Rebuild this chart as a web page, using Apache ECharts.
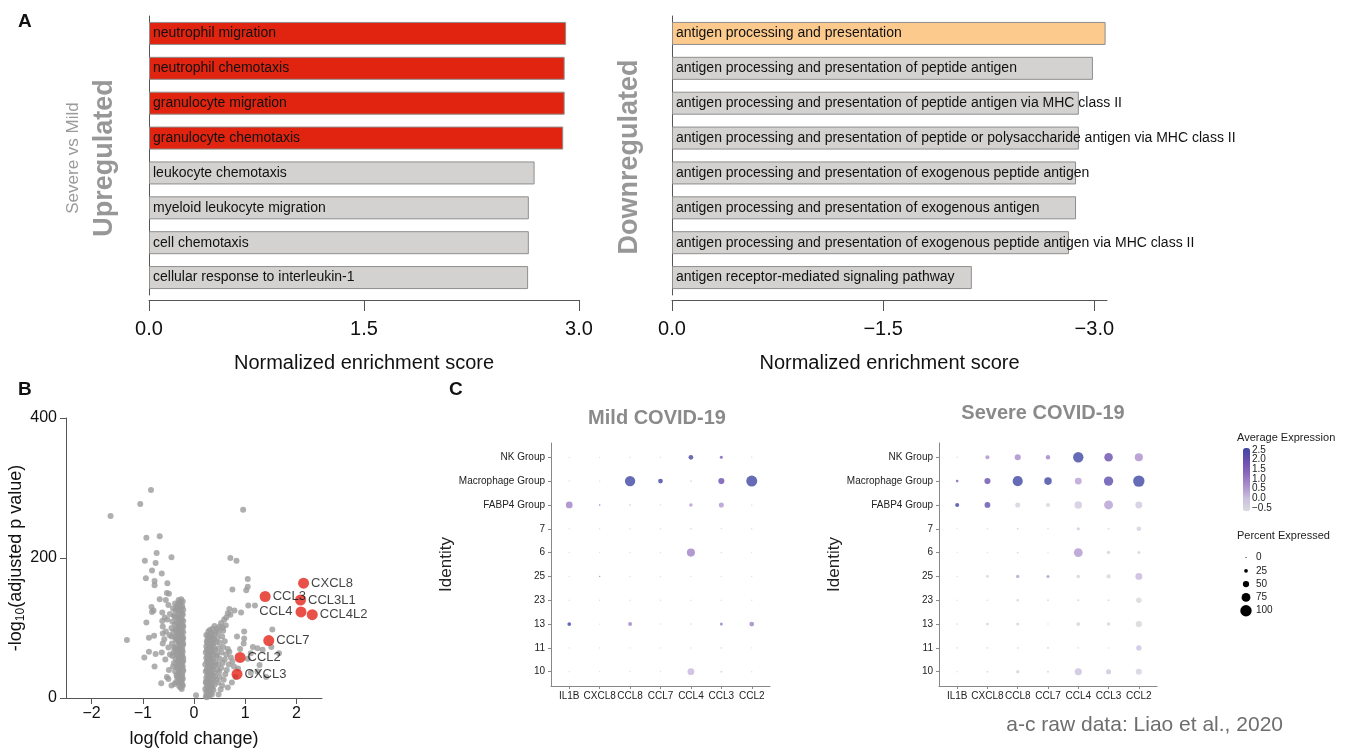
<!DOCTYPE html>
<html><head><meta charset="utf-8">
<script src="https://cdn.jsdelivr.net/npm/echarts@6/dist/echarts.min.js"></script>
<style>html,body{margin:0;padding:0;background:#fff}#c{width:1352px;height:753px}</style>
</head><body><div id="c"></div>
<script>
const FONT = '"Liberation Sans", Arial, Helvetica, sans-serif';

// ---------- Panel A ----------
const upTerms = ['neutrophil migration','neutrophil chemotaxis','granulocyte migration','granulocyte chemotaxis','leukocyte chemotaxis','myeloid leukocyte migration','cell chemotaxis','cellular response to interleukin-1'];
const upNES = [2.91, 2.90, 2.90, 2.89, 2.69, 2.65, 2.65, 2.645];
const upHighlighted = 4;
const downTerms = ['antigen processing and presentation','antigen processing and presentation of peptide antigen','antigen processing and presentation of peptide antigen via MHC class II','antigen processing and presentation of peptide or polysaccharide antigen via MHC class II','antigen processing and presentation of exogenous peptide antigen','antigen processing and presentation of exogenous antigen','antigen processing and presentation of exogenous peptide antigen via MHC class II','antigen receptor-mediated signaling pathway'];
const downNES = [-3.08, -2.99, -2.89, -2.89, -2.87, -2.87, -2.82, -2.13];
const upTicks = [0, 1.5, 3.0];
const downTicks = [0, -1.5, -3.0];

// ---------- Panel B (volcano) ----------
const volcanoGray = [
[-0.22,138],[-0.26,136],[-0.3,134],[-0.23,131],[-0.33,130],[-0.27,128],[-0.21,126],[-0.36,125],[-0.25,123],[-0.3,121],[-0.22,119],[-0.39,118],[-0.27,117],[-0.34,115],[-0.24,113],[-0.29,112],[-0.21,110],[-0.42,109],[-0.26,108],[-0.31,106],[-0.37,105],[-0.23,104],[-0.28,102],[-0.22,100],[-0.35,99],[-0.26,98],[-0.3,96],[-0.4,95],[-0.21,94],[-0.25,92],[-0.33,91],[-0.28,90],[-0.23,88],[-0.38,87],[-0.27,86],[-0.31,84],[-0.22,83],[-0.35,82],[-0.26,80],[-0.29,79],[-0.43,78],[-0.21,77],[-0.25,75],[-0.34,74],[-0.28,73],[-0.23,71],[-0.37,70],[-0.27,69],[-0.3,67],[-0.22,66],[-0.4,65],[-0.26,63],[-0.33,62],[-0.24,60],[-0.28,59],[-0.21,57],[-0.36,56],[-0.27,54],[-0.31,53],[-0.23,51],[-0.39,50],[-0.26,48],[-0.29,47],[-0.22,45],[-0.34,44],[-0.25,42],[-0.28,41],[-0.21,39],[-0.37,38],[-0.27,36],[-0.3,35],[-0.23,33],[-0.26,31],[-0.33,30],[-0.22,28],[-0.28,27],[-0.25,25],[-0.35,23],[-0.27,21],[-0.23,19],[-0.29,17],[-0.26,15],
[-0.28,137],[-0.32,133],[-0.24,129],[-0.35,127],[-0.29,124],[-0.23,120],[-0.38,116],[-0.28,114],[-0.24,111],[-0.34,108],[-0.27,105],[-0.21,103],[-0.29,100],[-0.36,97],[-0.24,95],[-0.32,93],[-0.27,89],[-0.21,86],[-0.34,85],[-0.24,82],[-0.3,81],[-0.27,78],[-0.22,76],[-0.39,72],[-0.32,70],[-0.24,68],[-0.28,65],[-0.35,64],[-0.23,61],[-0.3,58],[-0.25,56],[-0.21,53],[-0.33,51],[-0.28,49],[-0.24,46],[-0.32,44],[-0.27,43],[-0.22,40],[-0.29,37],[-0.24,34],[-0.34,32],[-0.28,29],[-0.23,26],[-0.31,24],[-0.25,22],[-0.22,18],[-0.3,140],[-0.25,141],[-0.37,135],[-0.41,128],[-0.44,100],[-0.42,60],[-0.41,45],[-0.44,88],[-0.38,20],[-0.24,13],
[-0.84,297],[-1.05,277],[-1.63,260],[-0.93,229],[-0.67,231],[-0.73,207],[-0.44,201],[-0.96,196],[-0.75,193],[-0.82,182],[-0.63,178],[-0.94,171],[-0.77,167],[-0.52,164],[-0.77,161],[-0.53,150],[-0.49,149],[-0.67,141],[-0.55,140],[-0.83,130],[-0.79,125],[-0.82,123],[-0.62,122],[-0.57,115],[-0.62,110],[-0.93,108],[-0.61,102],[-0.61,92],[-1.31,83],[-0.88,86],[-0.78,89],[-0.61,78],[-0.88,66],[-0.63,65],[-0.75,63],[-0.97,58],[-0.77,45],[-0.64,21],[-0.44,18],[-0.5,133],[-0.47,120],[-0.52,112],[-0.48,90],[-0.55,95],[-0.5,72],[-0.56,55],[-0.49,40],[-0.53,30],[-0.47,62],[-0.58,84],[-0.5,27],
[0.23,2],[0.26,5],[0.3,3],[0.24,8],[0.28,10],[0.33,7],[0.22,13],[0.27,15],[0.31,12],[0.36,14],[0.25,18],[0.29,20],[0.34,17],[0.23,22],[0.4,19],[0.27,25],[0.32,24],[0.37,27],[0.24,29],[0.3,30],[0.43,26],[0.26,33],[0.35,32],[0.28,36],[0.23,38],[0.33,37],[0.39,35],[0.25,41],[0.3,42],[0.46,40],[0.36,44],[0.27,46],[0.22,48],[0.32,49],[0.41,47],[0.25,52],[0.29,54],[0.35,53],[0.24,57],[0.31,58],[0.38,56],[0.27,61],[0.44,60],[0.33,63],[0.23,65],[0.29,66],[0.36,67],[0.26,70],[0.31,71],[0.41,69],[0.24,74],[0.34,75],[0.28,77],[0.38,78],[0.25,81],[0.32,82],[0.43,80],[0.27,85],[0.36,86],[0.3,88],[0.24,90],[0.4,91],[0.33,93],[0.28,95],
[0.25,1],[0.28,4],[0.35,5],[0.26,11],[0.3,16],[0.38,11],[0.24,24],[0.35,21],[0.29,28],[0.41,31],[0.31,34],[0.26,39],[0.37,41],[0.3,47],[0.34,45],[0.27,51],[0.42,51],[0.32,55],[0.26,59],[0.37,62],[0.3,64],[0.25,68],[0.33,69],[0.39,72],[0.29,73],[0.35,79],[0.26,79],[0.31,84],[0.39,84],[0.27,89],[0.35,90],[0.31,97],
[0.48,5],[0.52,12],[0.47,22],[0.55,18],[0.5,30],[0.58,26],[0.49,37],[0.61,34],[0.53,43],[0.47,48],[0.64,40],[0.56,50],[0.5,56],[0.6,55],[0.68,48],[0.45,63],[0.54,65],[0.63,62],[0.72,58],[0.48,71],[0.57,73],[0.66,70],[0.75,52],[0.5,79],[0.6,81],[0.46,86],[0.55,88],[0.69,66],[0.78,45],[0.81,30],[0.74,22],[0.66,15],[0.45,99],[0.5,102],[0.43,95],[0.53,107],[0.59,112],[0.63,115],[0.66,121],[0.71,119],[0.69,127],[0.62,104],[0.57,96],[0.4,103],[0.48,94],[0.56,100],[0.36,99],
[0.98,95],[0.98,85],[0.97,78],[1.15,73],[1.24,71],[1.34,69],[1.11,64],[1.05,56],[1.28,47],[1.41,30],[1.24,38],[1.11,36],[0.92,122],[0.79,125],[1.06,132],[1.19,132],[0.75,155],[1.02,154],[1.05,159],[1.05,170],[0.71,200],[0.83,196],[0.96,269],[0.04,4],[1.53,98],[1.66,64],[1.51,73],[0.86,42],[0.9,70],[0.84,88]
];
const redGenes = ['CXCL8','CCL3','CCL3L1','CCL4','CCL4L2','CCL7','CCL2','CXCL3'];
const redLogFC = [2.14, 1.39, 2.08, 2.09, 2.31, 1.46, 0.90, 0.84];
const redLogP = [164, 145, 140, 123, 119, 82, 58, 34];
const volXTicks = [-2, -1, 0, 1, 2];
const volYTicks = [0, 200, 400];

// ---------- Panel C (dot plots) ----------
const genes = ['IL1B','CXCL8','CCL8','CCL7','CCL4','CCL3','CCL2'];
const identities = ['NK Group','Macrophage Group','FABP4 Group','7','6','25','23','13','11','10']; // top to bottom
const mildPct = [
 [1,1,2,1,35,18,2],
 [3,2,90,35,6,48,96],
 [55,3,6,2,22,38,2],
 [1,1,1,1,5,2,2],
 [1,1,1,1,68,3,1],
 [1,2,1,1,1,1,1],
 [1,1,1,1,2,1,1],
 [25,1,28,2,4,18,35],
 [1,1,1,1,2,4,1],
 [1,1,1,1,55,6,2]
];
const mildExpr = [
 [-0.3,-0.3,-0.3,-0.3,2.4,1.7,-0.3],
 [-0.3,-0.3,2.5,2.5,-0.2,1.9,2.5],
 [0.9,1.5,-0.2,-0.3,0.6,0.6,-0.3],
 [-0.3,-0.3,-0.3,-0.3,-0.2,-0.3,-0.3],
 [-0.3,-0.3,-0.3,-0.3,0.9,-0.3,-0.3],
 [-0.3,1.0,-0.3,-0.3,-0.3,-0.3,-0.3],
 [-0.3,-0.3,-0.3,-0.3,-0.3,-0.3,-0.3],
 [2.5,-0.3,0.9,-0.3,-0.3,1.0,0.9],
 [-0.3,-0.3,-0.3,-0.3,-0.3,-0.2,-0.3],
 [-0.3,-0.3,-0.3,-0.3,0.2,-0.1,-0.3]
];
const severePct = [
 [3,28,48,32,90,72,68],
 [15,48,88,62,56,80,100],
 [28,45,38,28,62,76,56],
 [1,5,8,4,20,8,34],
 [1,2,7,2,75,22,18],
 [3,14,22,18,22,30,56],
 [1,4,12,8,10,9,42],
 [5,16,18,3,26,22,50],
 [4,5,6,8,4,3,40],
 [2,8,22,9,58,38,48]
];
const severeExpr = [
 [-0.3,0.7,0.8,0.9,2.5,1.9,0.7],
 [1.5,1.9,2.5,2.5,0.5,2.1,2.5],
 [2.5,2.0,-0.3,-0.3,-0.1,0.5,-0.1],
 [-0.4,-0.4,-0.3,-0.4,-0.1,-0.4,-0.3],
 [-0.4,-0.4,-0.3,-0.4,0.6,-0.3,-0.3],
 [-0.4,-0.2,0.5,0.6,-0.2,-0.4,0.2],
 [-0.4,-0.4,-0.3,-0.4,-0.4,-0.4,-0.4],
 [-0.4,-0.3,-0.3,-0.4,-0.3,-0.3,-0.4],
 [-0.4,-0.4,-0.4,-0.4,-0.4,-0.4,0.1],
 [-0.4,-0.4,-0.3,-0.4,0.1,0.0,-0.3]
];
const exprTicks = [2.5, 2.0, 1.5, 1.0, 0.5, 0.0, -0.5];
const pctTicks = [0, 25, 50, 75, 100];

// ---------- build ----------
const RED = '#e1240f', GRAY = '#d4d2d1', ORANGE = '#fbca8c', EDGE = '#8e8e8e';
const AX = '#555';
const dotColors = ['#dadada','#cbbfe0','#ab8fcc','#8a68bb','#6a4faf','#3f47a2'];
const dotSize = p => 1.2 + p * 0.102;
const nrow = identities.length;
function dotData(pct, expr) {
  const out = [];
  for (let r = 0; r < nrow; r++) for (let g = 0; g < genes.length; g++)
    out.push([g, nrow - 1 - r, expr[r][g], pct[r][g]]);
  return out;
}
const minusFmt = v => v < 0 ? '\u2212' + Math.abs(v) : String(v);

const chart = echarts.init(document.getElementById('c'), null, {renderer: 'canvas'});

const barLabel = {show: true, position: 'insideLeft', distance: 4, color: '#111', fontSize: 14, fontFamily: FONT};

function dotAxes(gi) {
  return {
    x: {gridIndex: gi, type: 'value', min: -0.6, max: 6.6, splitLine: {show: false},
      axisLine: {show: true, onZero: false, lineStyle: {color: '#888'}},
      axisTick: {show: true, length: 3, lineStyle: {color: '#888'}, customValues: genes.map((g, i) => i)},
      axisLabel: {customValues: genes.map((g, i) => i), formatter: v => genes[v], fontSize: 10, color: '#222', margin: 5, fontFamily: FONT}},
    y: {gridIndex: gi, type: 'value', min: -0.6, max: nrow - 0.4, splitLine: {show: false},
      name: 'Identity', nameLocation: 'middle', nameRotate: 90, nameGap: gi === 3 ? 90 : 87,
      nameTextStyle: {fontSize: 17, color: '#222', fontFamily: FONT},
      axisLine: {show: true, onZero: false, lineStyle: {color: '#888'}},
      axisTick: {show: true, length: 3, lineStyle: {color: '#888'}, customValues: identities.map((g, i) => i)},
      axisLabel: {customValues: identities.map((g, i) => i), formatter: v => identities[nrow - 1 - v], fontSize: 10, color: '#222', margin: 6, fontFamily: FONT}}
  };
}
const mildAx = dotAxes(3), sevAx = dotAxes(4);

const graphics = [];
const T = (x, y, text, font, fill, align, vAlign, rot) => graphics.push({type: 'text', x, y, rotation: rot || 0, silent: true,
  style: {text, font, fill, align: align || 'left', verticalAlign: vAlign || 'middle'}});
T(18, 22, 'A', 'bold 19px ' + FONT, '#111');
T(18, 390, 'B', 'bold 19px ' + FONT, '#111');
T(449, 390, 'C', 'bold 19px ' + FONT, '#111');
T(73, 158, 'Severe vs Mild', '17px ' + FONT, '#9a9a9a', 'center', 'middle', Math.PI / 2);
T(105, 158, 'Upregulated', 'bold 27px ' + FONT, '#979797', 'center', 'middle', Math.PI / 2);
T(630, 157, 'Downregulated', 'bold 27px ' + FONT, '#979797', 'center', 'middle', Math.PI / 2);
T(657, 418, 'Mild COVID-19', 'bold 20px ' + FONT, '#8a8a8a', 'center');
T(1043, 413, 'Severe COVID-19', 'bold 20px ' + FONT, '#8a8a8a', 'center');
T(1237, 438, 'Average Expression', '11px ' + FONT, '#222');
exprTicks.forEach((v, i) => T(1252, 450 + (2.5 - v) / 3 * 58, v < 0 ? '\u2212' + Math.abs(v).toFixed(1) : v.toFixed(1), '10px ' + FONT, '#222'));
T(1237, 536, 'Percent Expressed', '11px ' + FONT, '#222');
pctTicks.forEach((v, i) => {
  graphics.push({type: 'circle', silent: true, shape: {cx: 1246, cy: 557.5 + i * 13.3, r: dotSize(v) / 2}, style: {fill: '#000'}});
  T(1256, 557.5 + i * 13.3, String(v), '10px ' + FONT, '#222');
});
T(1283, 725, 'a-c raw data: Liao et al., 2020', '21px ' + FONT, '#6e6e6e', 'right');

const option = {
  backgroundColor: '#fff',
  animation: false,
  textStyle: {fontFamily: FONT},
  grid: [
    {left: 149, top: 16, width: 430, height: 279},
    {left: 672, top: 16, width: 435, height: 279},
    {left: 66, top: 418, width: 256, height: 280},
    {left: 551, top: 443, width: 219, height: 243},
    {left: 939, top: 443, width: 218, height: 243}
  ],
  xAxis: [
    {gridIndex: 0, type: 'value', min: 0, max: 3, offset: 5, splitLine: {show: false},
      axisLine: {show: true, lineStyle: {color: AX}}, axisTick: {show: true, length: 11, customValues: upTicks, lineStyle: {color: AX}},
      axisLabel: {customValues: upTicks, formatter: v => v.toFixed(1), fontSize: 20, color: '#111', margin: 19},
      name: 'Normalized enrichment score', nameLocation: 'middle', nameGap: 53, nameTextStyle: {fontSize: 20, color: '#111'}},
    {gridIndex: 1, type: 'value', min: -3.09, max: 0, inverse: true, offset: 5, splitLine: {show: false},
      axisLine: {show: true, lineStyle: {color: AX}}, axisTick: {show: true, length: 11, customValues: downTicks, lineStyle: {color: AX}},
      axisLabel: {customValues: downTicks, formatter: v => v === 0 ? '0.0' : '\u2212' + Math.abs(v).toFixed(1), fontSize: 20, color: '#111', margin: 19},
      name: 'Normalized enrichment score', nameLocation: 'middle', nameGap: 53, nameTextStyle: {fontSize: 20, color: '#111'}},
    {gridIndex: 2, type: 'value', min: -2.5, max: 2.5, splitLine: {show: false},
      axisLine: {show: true, onZero: false, lineStyle: {color: AX}}, axisTick: {show: true, length: 6, customValues: volXTicks, lineStyle: {color: AX}},
      axisLabel: {customValues: volXTicks, formatter: minusFmt, fontSize: 16, color: '#111', margin: 8},
      name: 'log(fold change)', nameLocation: 'middle', nameGap: 32, nameTextStyle: {fontSize: 18, color: '#111'}},
    mildAx.x, sevAx.x
  ],
  yAxis: [
    {gridIndex: 0, type: 'category', data: upTerms, inverse: true, axisLine: {show: true, onZero: false, lineStyle: {color: AX}}, axisTick: {show: false}, axisLabel: {show: false}},
    {gridIndex: 1, type: 'category', data: downTerms, inverse: true, axisLine: {show: true, onZero: false, lineStyle: {color: AX}}, axisTick: {show: false}, axisLabel: {show: false}},
    {gridIndex: 2, type: 'value', min: 0, max: 400, splitLine: {show: false},
      axisLine: {show: true, onZero: false, lineStyle: {color: AX}}, axisTick: {show: true, length: 6, customValues: volYTicks, lineStyle: {color: AX}},
      axisLabel: {customValues: volYTicks, fontSize: 16, color: '#111', margin: 9},
      name: '-log{s|10}(adjusted p value)', nameLocation: 'middle', nameRotate: 90, nameGap: 38,
      nameTextStyle: {fontSize: 18, color: '#111', rich: {s: {fontSize: 12, padding: [9, 0, 0, 0], verticalAlign: 'top'}}}},
    mildAx.y, sevAx.y
  ],
  visualMap: [{
    type: 'continuous', min: -0.5, max: 2.5, dimension: 2, seriesIndex: [4, 5],
    inRange: {color: dotColors}, calculable: false, show: true, text: null,
    left: 1243, top: 448, itemWidth: 7, itemHeight: 63, padding: 0
  }],
  series: [
    {type: 'bar', xAxisIndex: 0, yAxisIndex: 0, barWidth: 23,
      data: upNES.map((v, i) => ({value: v, itemStyle: {color: i < upHighlighted ? RED : GRAY, borderColor: EDGE, borderWidth: 1}})),
      label: Object.assign({formatter: p => upTerms[p.dataIndex]}, barLabel)},
    {type: 'bar', xAxisIndex: 1, yAxisIndex: 1, barWidth: 23,
      data: downNES.map((v, i) => ({value: v, itemStyle: {color: i === 0 ? ORANGE : GRAY, borderColor: EDGE, borderWidth: 1}})),
      label: Object.assign({formatter: p => downTerms[p.dataIndex]}, barLabel)},
    {type: 'scatter', xAxisIndex: 2, yAxisIndex: 2, symbolSize: 6, itemStyle: {color: '#9b9b9b'}, data: volcanoGray, z: 2},
    {type: 'scatter', xAxisIndex: 2, yAxisIndex: 2, symbolSize: 11, itemStyle: {color: '#e3261a'}, z: 3,
      data: redGenes.map((g, i) => ({name: g, value: [redLogFC[i], redLogP[i]],
        label: g === 'CCL4' ? {position: 'left', distance: 3} : {position: 'right', distance: 2}})),
      label: {show: true, formatter: p => p.name, fontSize: 13, color: '#111'}},
    {type: 'scatter', xAxisIndex: 3, yAxisIndex: 3, data: dotData(mildPct, mildExpr), symbolSize: d => dotSize(d[3])},
    {type: 'scatter', xAxisIndex: 4, yAxisIndex: 4, data: dotData(severePct, severeExpr), symbolSize: d => dotSize(d[3])}
  ],
  graphic: graphics
};
chart.setOption(option);
</script>
</body></html>
